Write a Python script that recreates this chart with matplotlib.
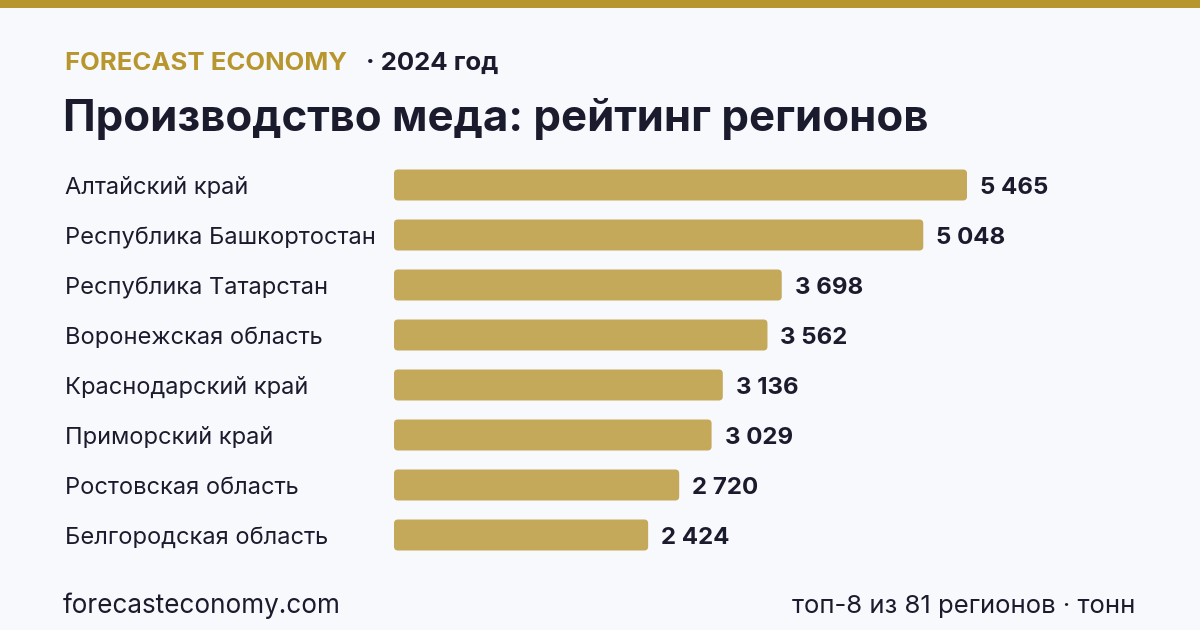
import matplotlib.pyplot as plt
from matplotlib.patches import FancyBboxPatch
from matplotlib import transforms

regions = ["Алтайский край", "Республика Башкортостан", "Республика Татарстан",
           "Воронежская область", "Краснодарский край", "Приморский край",
           "Ростовская область", "Белгородская область"]
values = [5465, 5048, 3698, 3562, 3136, 3029, 2720, 2424]

BG = "#f8f9fc"
GOLD = "#b8962e"
BAR = "#c4a95b"
DARK = "#1b1b2e"

plt.rcParams['font.family'] = ['Inter', 'DejaVu Sans']

fig = plt.figure(figsize=(12, 6.3), dpi=100)
fig.patch.set_facecolor(BG)

# top strip
fig.add_artist(plt.Rectangle((0, 1 - 8 / 630), 1, 8 / 630, transform=fig.transFigure,
                             color=GOLD, lw=0))

fig.text(65 / 1200, 1 - 63 / 630, "FORECAST ECONOMY", color=GOLD, fontsize=18.5,
         fontweight="bold", va="center")
fig.text(366 / 1200, 1 - 63 / 630, "· 2024 год", color=DARK, fontsize=18.5,
         fontweight="bold", va="center")
fig.text(63 / 1200, 1 - 119 / 630, "Производство меда: рейтинг регионов", color=DARK,
         fontsize=31.5, fontweight="bold", va="center")

ax = fig.add_axes([394 / 1200, 70 / 630, 573 / 1200, 400 / 630])
ax.set_facecolor(BG)
ax.set_xlim(0, max(values))
ax.set_ylim(len(values) - 0.5, -0.5)
ax.axis("off")

bars = ax.barh(range(len(values)), values, height=0.62, color=BAR)
xpp = max(values) / 573.0
ypp = 1 / 50.0
for b in bars:
    b.set_visible(False)
    p = FancyBboxPatch((b.get_x(), b.get_y()), b.get_width(), b.get_height(),
                       boxstyle="round,pad=0,rounding_size=%f" % (4 * xpp),
                       mutation_aspect=ypp / xpp, fc=BAR, ec="none")
    ax.add_patch(p)

dy = 3 * ypp  # nudge text down a little
for i, v in enumerate(values):
    ax.text(v + 13 * xpp, i + dy, f"{v:,}".replace(",", " "), va="center", ha="left",
            fontsize=17.3, fontweight="bold", color=DARK)

tr = transforms.blended_transform_factory(fig.transFigure, ax.transData)
for i, r in enumerate(regions):
    ax.text(65 / 1200, i + dy, r, transform=tr, va="center", ha="left", fontsize=17,
            color=DARK)

fig.text(63 / 1200, 1 - 606 / 630, "forecasteconomy.com", color=DARK, fontsize=18.8,
         va="center")
fig.text(1135 / 1200, 1 - 606 / 630, "топ-8 из 81 регионов · тонн", color=DARK,
         fontsize=18.5, va="center", ha="right")

fig.savefig("out.png", dpi=100, facecolor=BG)
